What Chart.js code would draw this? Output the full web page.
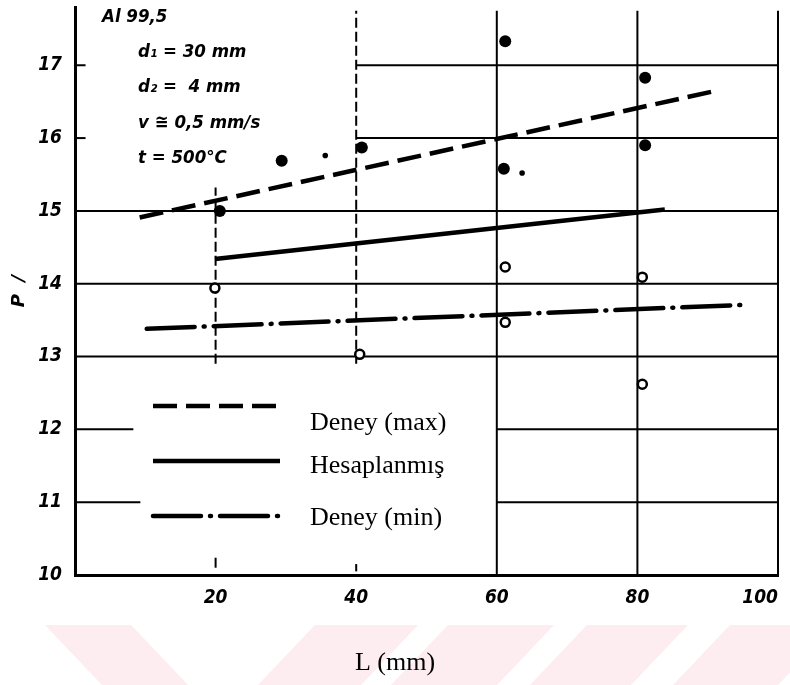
<!DOCTYPE html>
<html>
<head>
<meta charset="utf-8">
<script src="https://cdn.jsdelivr.net/npm/chart.js@4.4.1/dist/chart.umd.min.js"></script>
<style>
html,body{margin:0;padding:0;background:#fff;}
#wrap{position:relative;width:790px;height:685px;overflow:hidden;}
#band{position:absolute;left:0;top:0;}
#c{position:absolute;left:0;top:0;}
</style>
</head>
<body>
<div id="wrap">
<svg id="band" width="790" height="685" xmlns="http://www.w3.org/2000/svg">
  <g fill="#fdecf0">
    <polygon points="45,625 131,625 188,685 102,685"/>
    <polygon points="315,625 418,625 361,685 258,685"/>
    <polygon points="448,625 554,625 497,685 391,685"/>
    <polygon points="587,625 688,625 631,685 530,685"/>
    <polygon points="730,625 835,625 778,685 673,685"/>
  </g>
</svg>
<canvas id="c" width="790" height="685"></canvas>
</div>
<script>
// ---- data ----
const seriesNames = ['Deney (max)', 'Hesaplanmış', 'Deney (min)'];
const maxLineX = [9.2, 91.7];
const maxLineY = [14.91, 16.66];
const calcLineX = [19.9, 83.9];
const calcLineY = [14.34, 15.02];
const minLineX = [10.2, 95.3];
const minLineY = [13.38, 13.71];
const maxPtsX = [20.6, 29.4, 40.8, 61.2, 61.0, 81.1, 81.1];
const maxPtsY = [15.0, 15.69, 15.87, 17.33, 15.58, 16.83, 15.9];
const minPtsX = [19.9, 40.5, 61.2, 61.2, 80.7, 80.7];
const minPtsY = [13.94, 13.03, 14.23, 13.47, 14.09, 12.62];
const speckX = [35.6, 63.6];
const speckY = [15.76, 15.52];
const xTickValues = [0, 20, 40, 60, 80, 100];
const xTickLabels = ['', '20', '40', '60', '80', '100'];
const yTickValues = [10, 11, 12, 13, 14, 15, 16, 17];
const yTickLabels = ['10', '11', '12', '13', '14', '15', '16', '17'];
const xRange = [0, 100];
const yRange = [10, 17.8];
// grid segments: [value, from, to]
const hGrid = [[17,0,1.5],[17,40,100],[16,0,1.5],[16,40,100],[15,0,100],[14,0,100],[13,0,100],[12,0,8.3],[12,60,100],[11,0,9.3],[11,60,100]];
const vGrid = [[20,12.9,15.32],[20,10.1,10.25],[40,12.9,17.75],[40,10.05,10.15],[60,10,17.75],[80,10,17.75],[100,10,17.75]];
const noteLines = ['Al 99,5', 'd₁ = 30 mm', 'd₂ =  4 mm', 'v ≅ 0,5 mm/s', 't = 500°C'];
const xTitle = 'L (mm)';
const yTitle = 'P  /';

const pts = (xs, ys) => xs.map((x, i) => ({x, y: ys[i]}));
const tickFont = {family: "'DejaVu Sans Condensed','DejaVu Sans',sans-serif", size: 19, style: 'italic', weight: 'bold'};
const noteFontStr = "italic bold 18.5px 'DejaVu Sans Condensed','DejaVu Sans',sans-serif";
const serifFont = "26px 'Liberation Serif','Times New Roman',serif";
const dashMax = [24, 9];
const dashMin = [48, 9, 1, 9];

const gridPlugin = {
  id: 'gridSegments',
  beforeDatasetsDraw(chart) {
    const {ctx, scales: {x, y}} = chart;
    ctx.save();
    ctx.strokeStyle = '#000';
    ctx.lineWidth = 2;
    ctx.lineCap = 'butt';
    hGrid.forEach(([v, a, b]) => {
      ctx.beginPath();
      ctx.moveTo(x.getPixelForValue(a), y.getPixelForValue(v));
      ctx.lineTo(x.getPixelForValue(b), y.getPixelForValue(v));
      ctx.stroke();
    });
    vGrid.forEach(([v, a, b]) => {
      ctx.setLineDash(v < 50 ? [10, 4] : []);
      ctx.beginPath();
      ctx.moveTo(x.getPixelForValue(v), y.getPixelForValue(a));
      ctx.lineTo(x.getPixelForValue(v), y.getPixelForValue(b));
      ctx.stroke();
    });
    ctx.restore();
  }
};

const annotPlugin = {
  id: 'annot',
  afterDraw(chart) {
    const {ctx, chartArea: ca} = chart;
    ctx.save();
    ctx.fillStyle = '#000';
    ctx.strokeStyle = '#000';
    ctx.textBaseline = 'middle';
    ctx.textAlign = 'left';
    ctx.font = noteFontStr;
    const L = ca.left;
    const tops = [17, 52, 87, 123, 158];
    noteLines.forEach((t, i) => {
      ctx.fillText(t, i === 0 ? L + 27 : L + 63, tops[i]);
    });
    // legend
    const sx0 = L + 78, sx1 = L + 205;
    const rows = [
      {y: 406, dash: dashMax, cap: 'butt', ty: 423},
      {y: 461, dash: [], cap: 'butt', ty: 466},
      {y: 516, dash: dashMin, cap: 'round', ty: 518}
    ];
    rows.forEach((r, i) => {
      ctx.beginPath();
      ctx.lineWidth = 4.5;
      ctx.setLineDash(r.dash);
      ctx.lineCap = r.cap;
      ctx.moveTo(sx0, r.y);
      ctx.lineTo(sx1, r.y);
      ctx.stroke();
      ctx.setLineDash([]);
      ctx.font = serifFont;
      ctx.fillText(seriesNames[i], L + 235, r.ty);
    });
    // x title
    ctx.font = serifFont;
    ctx.textAlign = 'center';
    ctx.fillText(xTitle, 395, 663);
    ctx.restore();
  }
};

new Chart(document.getElementById('c'), {
  type: 'scatter',
  data: {
    datasets: [
      {label: seriesNames[0], data: pts(maxLineX, maxLineY), showLine: true, borderColor: '#000', borderWidth: 4.5, borderDash: dashMax, pointRadius: 0},
      {label: seriesNames[1], data: pts(calcLineX, calcLineY), showLine: true, borderColor: '#000', borderWidth: 4.5, pointRadius: 0},
      {label: seriesNames[2], data: pts(minLineX, minLineY), showLine: true, borderColor: '#000', borderWidth: 4.5, borderDash: dashMin, borderCapStyle: 'round', pointRadius: 0},
      {label: 'max', data: pts(maxPtsX, maxPtsY), showLine: false, pointRadius: 6, pointBackgroundColor: '#000', pointBorderColor: '#000', pointBorderWidth: 0},
      {label: 'min', data: pts(minPtsX, minPtsY), showLine: false, pointRadius: 4.5, pointBackgroundColor: '#fff', pointBorderColor: '#000', pointBorderWidth: 2.5},
      {label: 'speck', data: pts(speckX, speckY), showLine: false, pointRadius: 2.8, pointBackgroundColor: '#000', pointBorderWidth: 0}
    ]
  },
  options: {
    responsive: false,
    animation: false,
    devicePixelRatio: 1,
    layout: {padding: {top: 5, right: 12, left: 0, bottom: 0}},
    plugins: {legend: {display: false}, tooltip: {enabled: false}},
    scales: {
      x: {
        type: 'linear', min: xRange[0], max: xRange[1],
        afterBuildTicks: s => { s.ticks = xTickValues.map(v => ({value: v})); },
        afterFit: s => { s.height = 110; s.paddingLeft = 0; s.paddingRight = 0; },
        grid: {display: false, drawTicks: false},
        border: {display: true, color: '#000', width: 3},
        ticks: {color: '#000', font: tickFont, padding: 12, maxRotation: 0, autoSkip: false, align: 'inner',
          callback: (v) => { const i = xTickValues.indexOf(v); return i >= 0 ? xTickLabels[i] : ''; }}
      },
      y: {
        type: 'linear', min: yRange[0], max: yRange[1],
        afterBuildTicks: s => { s.ticks = yTickValues.map(v => ({value: v})); },
        afterFit: s => { s.width = 75; s.paddingTop = 0; s.paddingBottom = 0; },
        grid: {display: false, drawTicks: false},
        border: {display: true, color: '#000', width: 3},
        ticks: {color: '#000', font: tickFont, padding: 13, autoSkip: false,
          callback: (v) => { const i = yTickValues.indexOf(v); return i >= 0 ? yTickLabels[i] : ''; }},
        title: {display: true, text: yTitle, color: '#000', font: {family: "'DejaVu Sans',sans-serif", size: 18, style: 'italic', weight: 'bold'}, padding: {top: 9, bottom: 0}}
      }
    }
  },
  plugins: [gridPlugin, annotPlugin]
});
</script>
</body>
</html>
